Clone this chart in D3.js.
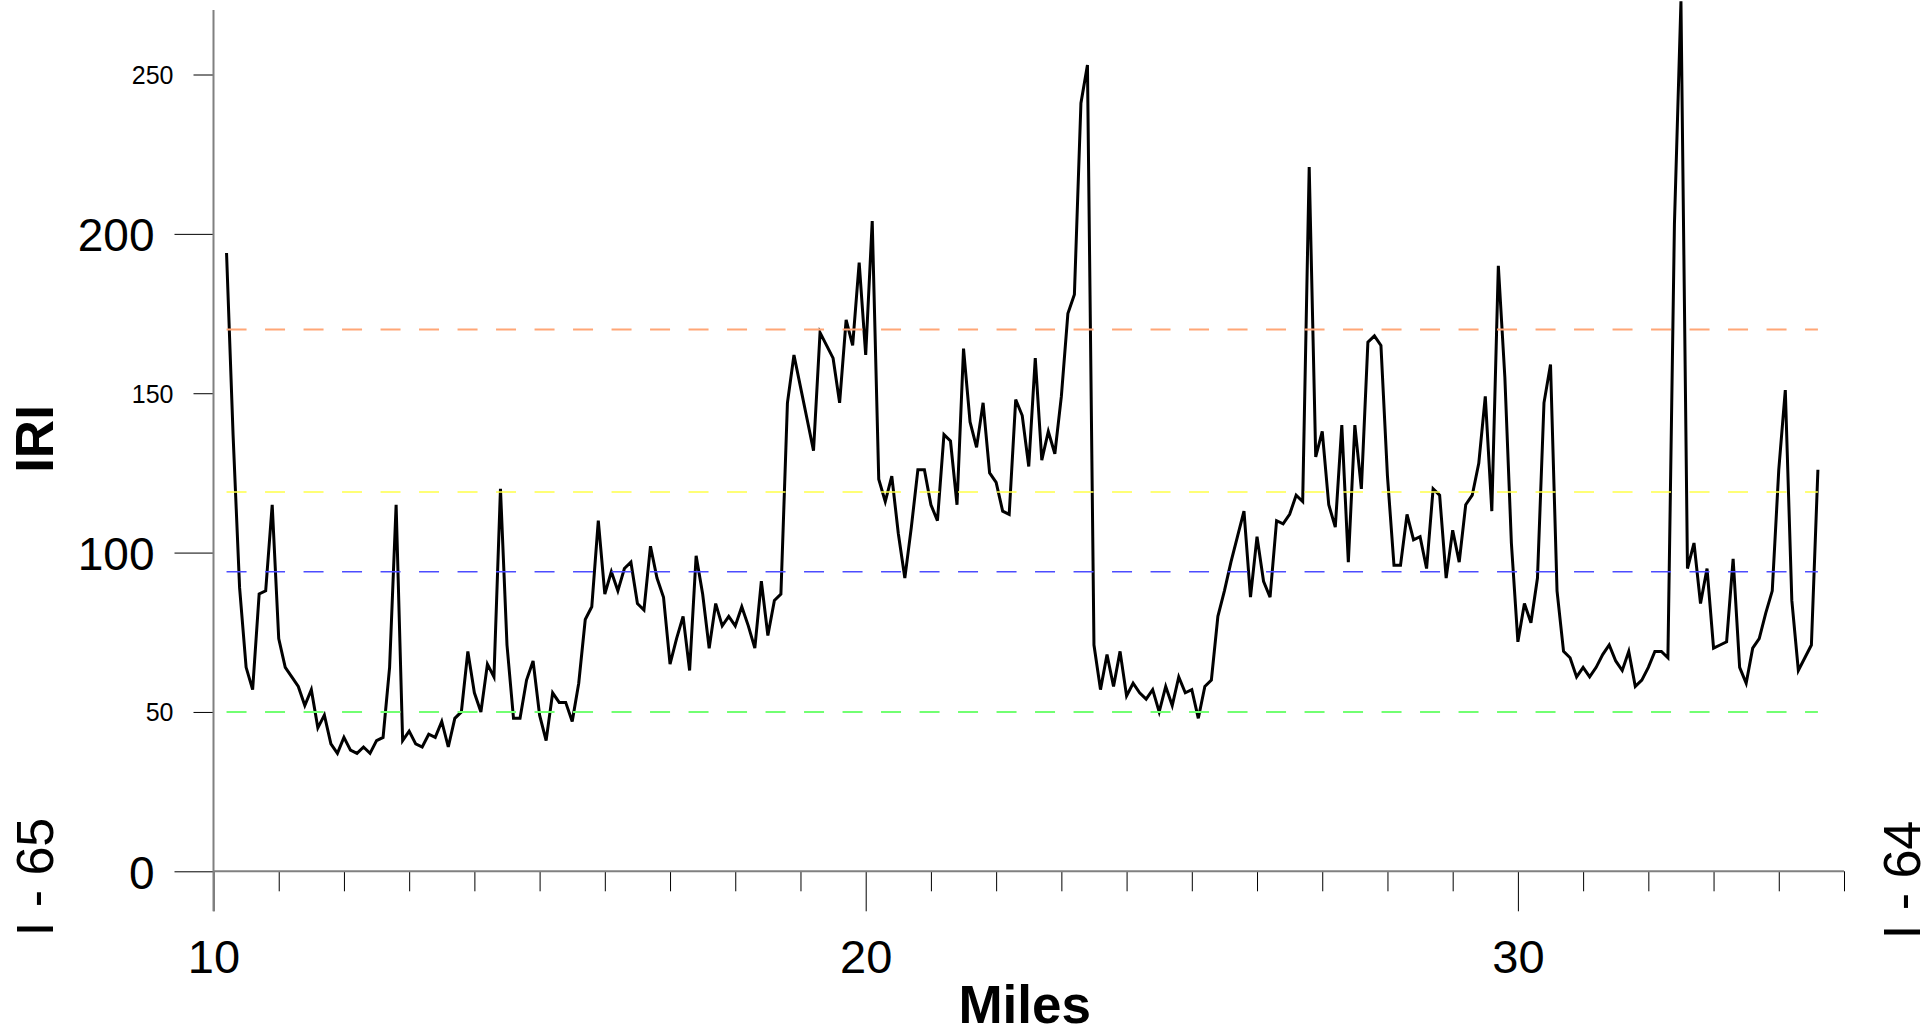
<!DOCTYPE html>
<html>
<head>
<meta charset="utf-8">
<script src="https://cdn.jsdelivr.net/npm/d3@7"></script>
<style>
  html, body { margin: 0; padding: 0; background: #ffffff; }
  svg { display: block; }
  text { font-family: "Liberation Sans", Arial, Helvetica, sans-serif; fill: #000; }
</style>
</head>
<body>
<svg id="chart" width="1932" height="1036"></svg>
<script>
// ---------------- data ----------------
const miles = [
  10.2,10.3,10.4,10.5,10.6,10.7,10.8,10.9,
  11.0,11.1,11.2,11.3,11.4,11.5,11.6,11.7,11.8,11.9,
  12.0,12.1,12.2,12.3,12.4,12.5,12.6,12.7,12.8,12.9,
  13.0,13.1,13.2,13.3,13.4,13.5,13.6,13.7,13.8,13.9,
  14.0,14.1,14.2,14.3,14.4,14.5,14.6,14.7,14.8,14.9,
  15.0,15.1,15.2,15.3,15.4,15.5,15.6,15.7,15.8,15.9,
  16.0,16.1,16.2,16.3,16.4,16.5,16.6,16.7,16.8,16.9,
  17.0,17.1,17.2,17.3,17.4,17.5,17.6,17.7,17.8,17.9,
  18.0,18.1,18.2,18.3,18.4,18.5,18.6,18.7,18.8,18.9,
  19.0,19.1,19.2,19.3,19.4,19.5,19.6,19.7,19.8,19.9,
  20.0,20.1,20.2,20.3,20.4,20.5,20.6,20.7,20.8,20.9,
  21.0,21.1,21.2,21.3,21.4,21.5,21.6,21.7,21.8,21.9,
  22.0,22.1,22.2,22.3,22.4,22.5,22.6,22.7,22.8,22.9,
  23.0,23.1,23.2,23.3,23.4,23.5,23.6,23.7,23.8,23.9,
  24.0,24.1,24.2,24.3,24.4,24.5,24.6,24.7,24.8,24.9,
  25.0,25.1,25.2,25.3,25.4,25.5,25.6,25.7,25.8,25.9,
  26.0,26.1,26.2,26.3,26.4,26.5,26.6,26.7,26.8,26.9,
  27.0,27.1,27.2,27.3,27.4,27.5,27.6,27.7,27.8,27.9,
  28.0,28.1,28.2,28.3,28.4,28.5,28.6,28.7,28.8,28.9,
  29.0,29.1,29.2,29.3,29.4,29.5,29.6,29.7,29.8,29.9,
  30.0,30.1,30.2,30.3,30.4,30.5,30.6,30.7,30.8,30.9,
  31.0,31.1,31.2,31.3,31.4,31.5,31.6,31.7,31.8,31.9,
  32.0,32.1,32.2,32.3,32.4,32.5,32.6,32.7,32.8,32.9,
  33.0,33.1,33.2,33.3,33.4,33.5,33.6,33.7,33.8,33.9,
  34.0,34.1,34.2,34.3,34.4,34.5,34.6
];

const iri = [
  194,137,89,64,57,87,88,115,
  73,64,61,58,52,57,45,49,40,37,
  42,38,37,39,37,41,42,64,115,41,
  44,40,39,43,42,47,39,48,50,69,
  56,50,65,61,120,71,48,48,60,66,
  49,41,56,53,53,47,59,79,83,110,
  87,94,88,95,97,84,82,102,92,86,
  65,73,80,63,99,87,70,84,77,80,
  77,83,77,70,91,74,85,87,147,162,
  152,142,132,169,165,161,147,173,165,191,
  162,204,123,116,124,106,92,108,126,126,
  115,110,137,135,115,164,141,133,147,125,
  122,113,112,148,143,127,161,129,138,131,
  149,175,181,241,253,71,57,68,58,69,
  55,59,56,54,57,50,58,52,61,56,
  57,48,58,60,80,88,97,105,113,86,
  105,91,86,110,109,112,118,116,221,130,
  138,115,108,140,97,140,120,166,168,165,
  124,96,96,112,104,105,95,120,118,92,
  107,97,115,118,128,149,113,190,155,103,
  72,84,78,92,147,159,88,69,67,61,
  64,61,64,68,71,66,63,69,58,60,
  64,69,69,67,203,273,95,103,84,95,
  70,71,72,98,64,59,70,73,81,88,
  126,151,85,63,67,71,126
];

const thresholdValues = [170, 119, 94, 50];
const thresholdColors = ["#ffa676", "#ffff4a", "#4c4cff", "#72ff72"];

const xMajorTicks = [10, 20, 30];
const xMinorTicks = [11,12,13,14,15,16,17,18,19,21,22,23,24,25,26,27,28,29,31,32,33,34,35];
const yMajorTicks = [0, 100, 200];
const yMinorTicks = [50, 150, 250];

const xTitle = "Miles";
const yTitle = "IRI";
const leftRoute = "I - 65";
const rightRoute = "I - 64";

// ---------------- layout ----------------
const svg = d3.select("#chart");
svg.append("rect").attr("width", 1932).attr("height", 1036).attr("fill", "#fff");

const x = d3.scaleLinear().domain([10, 35]).range([213.5, 1844]);
const y = d3.scaleLinear().domain([0, 250]).range([871.3, 74.5]);

const points = miles.map((m, i) => ({ m: m, v: iri[i] }));

// data line
const line = d3.line().x(d => x(d.m)).y(d => y(d.v));
svg.append("path")
  .datum(points)
  .attr("d", line)
  .attr("fill", "none")
  .attr("stroke", "#000")
  .attr("stroke-width", 3)
  .attr("stroke-linejoin", "miter")
  .attr("stroke-miterlimit", 4);

// threshold dashed lines
const xStart = d3.min(miles), xEnd = d3.max(miles);
svg.append("g").selectAll("line")
  .data(thresholdValues)
  .join("line")
  .attr("x1", x(xStart))
  .attr("x2", x(xEnd))
  .attr("y1", d => y(d))
  .attr("y2", d => y(d))
  .attr("stroke", (d, i) => thresholdColors[i])
  .attr("stroke-width", (d, i) => (i === 0 || i === 3) ? 2 : 1.6)
  .attr("stroke-dasharray", "20,18.5");

// ---------- x axis ----------
const gxMinor = svg.append("g").attr("transform", `translate(0,${y(0)})`)
  .call(d3.axisBottom(x).tickValues(xMinorTicks).tickSize(20).tickSizeOuter(0).tickFormat(""));
const gxMajor = svg.append("g").attr("transform", `translate(0,${y(0)})`)
  .call(d3.axisBottom(x).tickValues(xMajorTicks).tickSize(40).tickSizeOuter(0).tickFormat(d3.format("d")));
[gxMinor, gxMajor].forEach(g => {
  g.select(".domain").remove();
  g.selectAll(".tick line").attr("stroke", "#000").attr("stroke-width", 1);
});
gxMajor.selectAll(".tick text")
  .attr("y", 0).attr("dy", null)
  .attr("transform", "translate(0,102)")
  .style("font-size", "47px")
  .style("font-family", "'Liberation Sans', Arial, sans-serif")
  .attr("fill", "#000");

// x axis base line (grey)
svg.append("line")
  .attr("x1", x(10)).attr("x2", x(35))
  .attr("y1", y(0)).attr("y2", y(0))
  .attr("stroke", "#808080").attr("stroke-width", 2);

// ---------- y axis ----------
const gyMinor = svg.append("g").attr("transform", `translate(${x(10)},0)`)
  .call(d3.axisLeft(y).tickValues(yMinorTicks).tickSize(20).tickSizeOuter(0).tickPadding(20).tickFormat(d3.format("d")));
const gyMajor = svg.append("g").attr("transform", `translate(${x(10)},0)`)
  .call(d3.axisLeft(y).tickValues(yMajorTicks).tickSize(39).tickSizeOuter(0).tickPadding(20).tickFormat(d3.format("d")));
[gyMinor, gyMajor].forEach(g => {
  g.select(".domain").remove();
  g.selectAll(".tick line").attr("stroke", "#000").attr("stroke-width", 1);
});
gyMinor.selectAll(".tick text")
  .attr("x", -40).attr("dy", "0.36em")
  .style("font-size", "25px")
  .style("font-family", "'Liberation Sans', Arial, sans-serif")
  .attr("fill", "#000");
gyMajor.selectAll(".tick text")
  .attr("x", -59).attr("dy", "0.37em")
  .style("font-size", "46px")
  .style("font-family", "'Liberation Sans', Arial, sans-serif")
  .attr("fill", "#000");

// y axis line (grey), extends from top down to major tick length below zero
svg.append("line")
  .attr("x1", x(10)).attr("x2", x(10))
  .attr("y1", 10).attr("y2", y(0) + 40)
  .attr("stroke", "#808080").attr("stroke-width", 2);

// ---------- titles ----------
svg.append("text")
  .attr("x", (x(10) + x(35)) / 2 - 4)
  .attr("y", 1023)
  .attr("text-anchor", "middle")
  .style("font-size", "53px")
  .style("font-weight", "bold")
  .text(xTitle);

svg.append("text")
  .attr("transform", "translate(53,439) rotate(-90)")
  .attr("text-anchor", "middle")
  .style("font-size", "53px")
  .style("font-weight", "bold")
  .text(yTitle);

svg.append("text")
  .attr("transform", "translate(53,877) rotate(-90)")
  .attr("text-anchor", "middle")
  .style("font-size", "52px")
  .text(leftRoute);

svg.append("text")
  .attr("transform", "translate(1920,880) rotate(-90)")
  .attr("text-anchor", "middle")
  .style("font-size", "52px")
  .text(rightRoute);
</script>
</body>
</html>
